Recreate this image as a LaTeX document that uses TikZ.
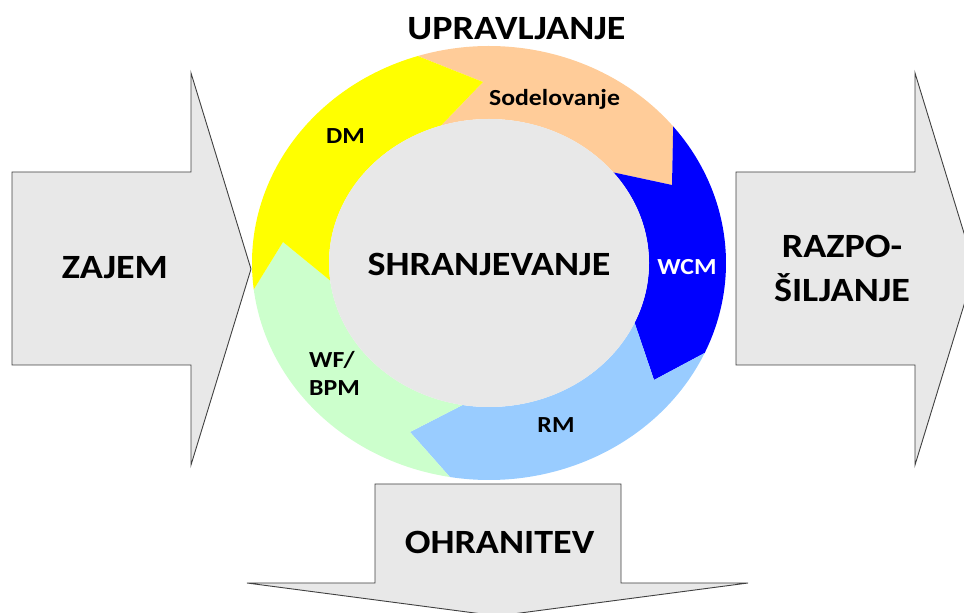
\documentclass[tikz,border=0pt]{standalone}
\usepackage{fontspec}
\setmainfont{Carlito}[FakeStretch=1.12]
\definecolor{ringyellow}{HTML}{FFFF00}
\definecolor{ringpeach}{HTML}{FFCC99}
\definecolor{ringblue}{HTML}{0000FF}
\definecolor{ringsky}{HTML}{99CCFF}
\definecolor{ringmint}{HTML}{CCFFCC}
\definecolor{coregrey}{HTML}{E8E8E8}
\definecolor{edgegrey}{HTML}{404040}
% one coloured piece of the ring: colour, tail angle, head angle, tail notch tip, head tip
\newcommand\ringpiece[5]{%
  \fill[#1] (#2:237 and 217) arc[start angle=#2, end angle=#3, x radius=237, y radius=217]
    -- #5 -- (#3:160 and 144) arc[start angle=#3, end angle=#2, x radius=160, y radius=144]
    -- #4 -- cycle;}
\begin{document}
\begin{tikzpicture}[x=1pt,y=1pt,
  blockarrow/.style={fill=coregrey, draw=edgegrey, line width=0.9pt, line join=miter},
  bigtext/.style={font=\bfseries\fontsize{34}{43.5}\selectfont, anchor=base, inner sep=0pt},
  ringtext/.style={font=\bfseries\fontsize{23}{28}\selectfont, anchor=base, inner sep=0pt},
]
\useasboundingbox (0,0) rectangle (964,613);
\clip (0,0) rectangle (964,613);

% input, output and archive arrows
\draw[blockarrow] (12,248) -- (191,248) -- (191,148) -- (251,344) -- (191,540) -- (191,441) -- (12,441) -- cycle;
\draw[blockarrow] (736,248) -- (915,248) -- (915,148) -- (975,344) -- (915,540) -- (915,441) -- (736,441) -- cycle;
\draw[blockarrow] (375,129) -- (375,30) -- (247,30) -- (497.5,-3) -- (748,30) -- (621,30) -- (621,129) -- cycle;

% the cycle of curved arrows round the store
\begin{scope}[shift={(489,350)}]
  \coordinate (t1) at (-6,181);
  \coordinate (t2) at (183,78);
  \coordinate (t3) at (165,-117);
  \coordinate (t4) at (-79,-169);
  \coordinate (t5) at (-206,21);
  \ringpiece{ringpeach}{107.5}{39}{(t1)}{(t2)}
  \ringpiece{ringblue}{39}{-24.5}{(t2)}{(t3)}
  \ringpiece{ringsky}{-24.5}{-99.5}{(t3)}{(t4)}
  \ringpiece{ringmint}{-99.5}{-173}{(t4)}{(t5)}
  \ringpiece{ringyellow}{187}{107.5}{(t5)}{(t1)}
  \fill[coregrey] (0,0) ellipse[x radius=160, y radius=144];
\end{scope}

% labels (for two-line labels the base anchor sits on the last line)
\node[bigtext] (store) at (489,337) {SHRANJEVANJE};
\node[bigtext] (manage) at (516.5,573) {UPRAVLJANJE};
\node[bigtext] (capture) at (115,334) {ZAJEM};
\node[bigtext] (preserve) at (499.5,59) {OHRANITEV};
\node[bigtext, align=center] (deliver) at (842,311.5) {RAZPO-\\ŠILJANJE};
\node[ringtext] (collab) at (554.5,507) {Sodelovanje};
\node[ringtext] (dm) at (345.5,469) {DM};
\node[ringtext, text=white] (wcm) at (687,338) {WCM};
\node[ringtext] (rm) at (556,180) {RM};
\node[ringtext, align=left, anchor=base west] (wf) at (309,217) {WF/\\BPM};
\end{tikzpicture}
\end{document}
